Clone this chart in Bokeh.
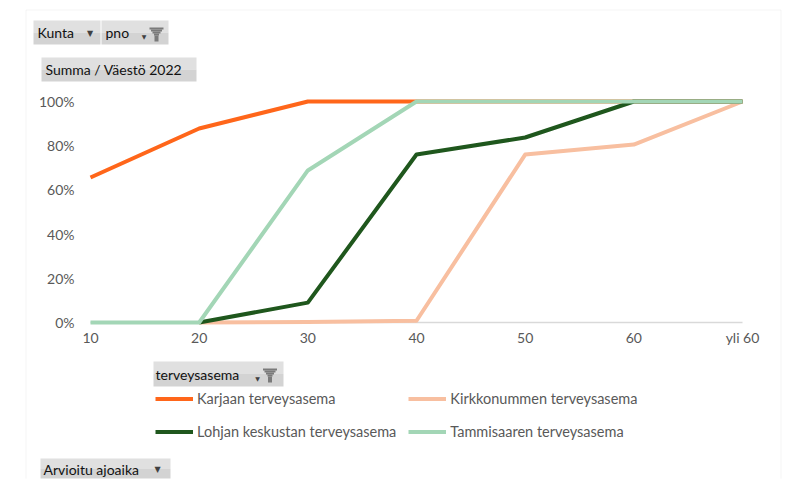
import math
from bokeh.plotting import figure
from bokeh.models import (Range1d, FixedTicker, NumeralTickFormatter, Legend,
                          LegendItem, Label, BoxAnnotation)
from bokeh.embed import file_html
from bokeh.resources import INLINE

nan = float("nan")

# ---- data ----
categories = ["10", "20", "30", "40", "50", "60", "yli 60"]
karjaa = [0.656, 0.878, 1.0, 1.0, 1.0, 1.0, 1.0]
kirkkonummi = [nan, 0.0, 0.002, 0.008, 0.76, 0.805, 1.0]
lohja = [nan, 0.0, 0.09, 0.76, 0.837, 1.0, 1.0]
tammisaari = [0.0, 0.0, 0.688, 1.0, 1.0, 1.0, 1.0]
y_ticks = [0, 0.2, 0.4, 0.6, 0.8, 1.0]

series_names = ["Karjaan terveysasema", "Kirkkonummen terveysasema",
                "Lohjan keskustan terveysasema", "Tammisaaren terveysasema"]
series_values = [karjaa, kirkkonummi, lohja, tammisaari]
series_colors = ["#FF661A", "#F8BFA0", "#1F571D", "#A3D6B6"]

# ---- layout constants (pixels) ----
W, H = 788, 482
FL, FR, FT, FB = 12, W, 0, H - 4          # frame box (canvas px)
X0_PX, X1_PX = 90, 742                     # where first / last category sit
Y0_PX, Y1_PX = 322, 101                    # where 0 % / 100 % sit
FONT = "Lato"
GREY_TXT = "#595959"

n = len(categories)
idx = list(range(n))
xs = (X1_PX - X0_PX) / (n - 1)
ys = (Y0_PX - Y1_PX) / 1.0
x_start = (FL - X0_PX) / xs
x_end = (n - 1) + (FR - X1_PX) / xs
y_start = -(FB - Y0_PX) / ys
y_end = 1 + (Y1_PX - FT) / ys

p = figure(width=W, height=H, output_backend="svg", toolbar_location=None,
           x_range=Range1d(x_start, x_end), y_range=Range1d(y_start, y_end),
           min_border_left=FL, min_border_right=W - FR,
           min_border_top=FT, min_border_bottom=H - FB)
p.outline_line_color = None
p.xgrid.visible = False
p.ygrid.visible = False
p.background_fill_color = "white"
p.border_fill_color = "white"

# axes
p.xaxis.ticker = FixedTicker(ticks=idx)
p.xaxis.major_label_overrides = {i: c for i, c in zip(idx, categories)}
p.yaxis.ticker = FixedTicker(ticks=y_ticks)
p.yaxis.formatter = NumeralTickFormatter(format="0%")
for ax in (p.xaxis[0], p.yaxis[0]):
    ax.axis_line_color = None
    ax.major_tick_line_color = None
    ax.minor_tick_line_color = None
    ax.major_tick_out = 0
    ax.major_tick_in = 0
    ax.major_label_text_font = FONT
    ax.major_label_text_font_size = "14px"
    ax.major_label_text_color = GREY_TXT
# axes drawn at fixed spots inside the frame; negative standoff keeps their panels tiny
X_STANDOFF, Y_STANDOFF = -15, -30
p.xaxis.major_label_standoff = X_STANDOFF
p.yaxis.major_label_standoff = Y_STANDOFF
label_top_px = 328
p.xaxis.fixed_location = -(label_top_px - X_STANDOFF - Y0_PX) / ys
label_right_px = 74
p.yaxis.fixed_location = (label_right_px + Y_STANDOFF - X0_PX) / xs

# horizontal axis line at 0 spanning the category positions
p.segment(x0=[idx[0]], y0=[0], x1=[idx[-1]], y1=[0], line_color="#d9d9d9",
          line_width=1.5, level="underlay")

renderers = []
for name, vals, col in zip(series_names, series_values, series_colors):
    r = p.line(idx, vals, line_color=col, line_width=4, line_join="round")
    renderers.append(r)

legend = Legend(items=[LegendItem(label=nm, renderers=[r]) for nm, r in zip(series_names, renderers)],
                orientation="horizontal", ncols=2,
                location=(155 - FL, FB - 441.5), margin=0, padding=0,
                border_line_color=None, background_fill_alpha=0,
                glyph_width=38, glyph_height=21, label_height=21,
                label_standoff=4, spacing=12,
                label_text_font=FONT, label_text_font_size="14.5px",
                label_text_color=GREY_TXT, label_text_baseline="middle")
p.add_layout(legend, "center")

# ---- chart frame and pivot field buttons (decoration, canvas px) ----
def box(x0, x1, y0, y1, color, line=None):
    p.add_layout(BoxAnnotation(left=x0, right=x1, top=y0, bottom=y1,
                               left_units="canvas", right_units="canvas",
                               top_units="canvas", bottom_units="canvas",
                               fill_color=color if color else "white",
                               fill_alpha=1 if color else 0,
                               line_color=line, line_width=1))

box(25.5, 780.5, 9.5, H + 20, None, "#d9d9d9")

def button(x0, x1, y0, y1, text, tx):
    mid = (y0 + y1) / 2
    box(x0, x1, y0, mid, "#e0e0e0")
    box(x0, x1, mid, y1, "#d3d3d3")
    p.add_layout(Label(x=tx, y=mid, x_units="canvas", y_units="canvas",
                       text=text, text_font=FONT, text_font_size="14px",
                       text_color="#111111", text_baseline="middle", text_align="left"))

def arrow(x, y, size="8px"):
    p.add_layout(Label(x=x, y=y, x_units="canvas", y_units="canvas", text="▼",
                       text_font="DejaVu Sans", text_font_size=size, text_color="#404040",
                       text_baseline="middle", text_align="center"))

def funnel(cx, top):
    for i in range(4):
        w = 14 - 3 * i
        box(cx - w / 2, cx + w / 2, top + 2 * i, top + 2 * i + 2, "#7a7a7a")
    box(cx - 2, cx + 2, top + 8, top + 14, "#7a7a7a")

button(33, 100, 20, 44, "Kunta", 37)
arrow(89.5, 33)
button(101, 168, 20, 44, "pno", 105)
arrow(143.5, 36, "6px")
funnel(156, 27)
button(41, 196, 57, 81, "Summa / Väestö 2022", 45)
button(153, 283, 361, 386, "terveysasema", 155)
arrow(257, 378, "6px")
funnel(269.5, 368)
button(40, 170, 458, 479, "Arvioitu ajoaika", 43)
arrow(157, 469)

open("out.html", "w").write(file_html(p, INLINE))
